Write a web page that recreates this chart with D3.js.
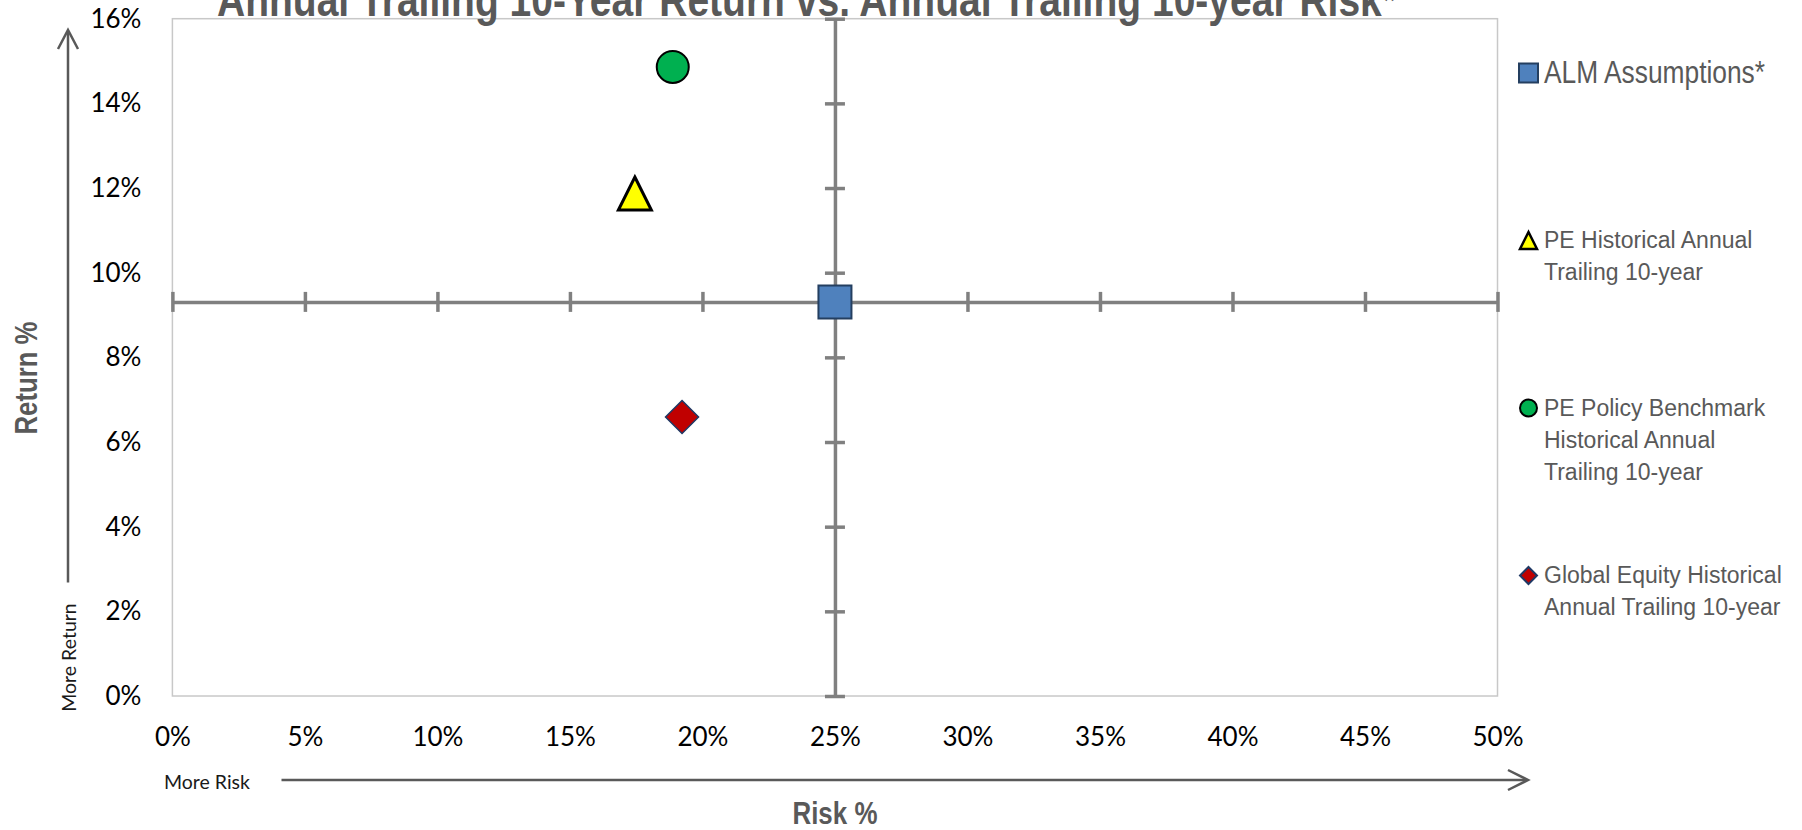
<!DOCTYPE html>
<html>
<head>
<meta charset="utf-8">
<script src="https://cdn.jsdelivr.net/npm/d3@7"></script>
<style>
  html, body { margin: 0; padding: 0; background: #ffffff; }
  svg { display: block; }
</style>
</head>
<body>
<svg id="chart" width="1802" height="830"></svg>
<script>
// Series (risk = annualised std dev %, return = annualised return %)
const seriesNames = [
  "ALM Assumptions*",
  "PE Historical Annual Trailing 10-year",
  "PE Policy Benchmark Historical Annual Trailing 10-year",
  "Global Equity Historical Annual Trailing 10-year"
];
const riskValues   = [25.0, 17.45, 18.88, 19.23];
const returnValues = [9.31, 11.87, 14.86, 6.59];
const legendLines = [
  ["ALM Assumptions*"],
  ["PE Historical Annual", "Trailing 10-year"],
  ["PE Policy Benchmark", "Historical Annual", "Trailing 10-year"],
  ["Global Equity Historical", "Annual Trailing 10-year"]
];
const xTicks = [0, 5, 10, 15, 20, 25, 30, 35, 40, 45, 50];
const yTicks = [0, 2, 4, 6, 8, 10, 12, 14, 16];
const xTickLabels = ["0%", "5%", "10%", "15%", "20%", "25%", "30%", "35%", "40%", "45%", "50%"];
const yTickLabels = ["0%", "2%", "4%", "6%", "8%", "10%", "12%", "14%", "16%"];
const titleText = "Annual Trailing 10-Year Return vs. Annual Trailing 10-year Risk*";

// Marker styling per series
const shapes  = ["square", "triangle", "circle", "diamond"];
const fills   = ["#4F81BD", "#FFFF00", "#00B050", "#C00000"];
const strokes = ["#243F60", "#000000", "#000000", "#1F3864"];
const strokeW = [2, 3, 2, 1.5];

const ARIAL = "'Liberation Sans', Arial, sans-serif";
const BODY = "Lato, 'Open Sans', sans-serif";
const AXIS_GREY = "#808080";
const TEXT_GREY = "#595959";

const svg = d3.select("#chart");

const plot = { left: 172.4, right: 1497.5, top: 18.7, bottom: 696 };
const x = d3.scaleLinear().domain([0, 50]).range([plot.left, plot.right]);
const y = d3.scaleLinear().domain([0, 16]).range([plot.bottom, plot.top]);

// The crossing axes sit on the ALM assumption point
const crossX = riskValues[0];
const crossY = returnValues[0];

// Marker outline centred on (0,0); size = full width of the marker box
function markerPath(shape, s) {
  const h = s / 2;
  const p = d3.path();
  if (shape === "square") {
    p.rect(-h, -h, s, s);
  } else if (shape === "triangle") {
    p.moveTo(0, -h); p.lineTo(h, h); p.lineTo(-h, h); p.closePath();
  } else if (shape === "diamond") {
    p.moveTo(0, -h); p.lineTo(h, 0); p.lineTo(0, h); p.lineTo(-h, 0); p.closePath();
  } else {
    p.moveTo(h, 0); p.arc(0, 0, h, 0, Math.PI * 2); p.closePath();
  }
  return p.toString();
}

// Condensed bold label: regular glyphs squeezed to a narrow set width
function narrowText(sel, len) {
  return sel.attr("font-family", ARIAL)
    .attr("textLength", len)
    .attr("lengthAdjust", "spacingAndGlyphs");
}

// Plot area frame
svg.append("rect")
  .attr("x", plot.left).attr("y", plot.top)
  .attr("width", plot.right - plot.left).attr("height", plot.bottom - plot.top)
  .attr("fill", "none").attr("stroke", "#C8C8C8").attr("stroke-width", 1.5);

// Horizontal crossing axis (risk), ticks straddle the line
const hAxis = svg.append("g")
  .attr("transform", `translate(0,${y(crossY)})`)
  .call(d3.axisBottom(x).tickValues(xTicks).tickFormat("").tickSizeOuter(0));
hAxis.select(".domain").attr("stroke", AXIS_GREY).attr("stroke-width", 3.5);
hAxis.selectAll(".tick line").attr("y1", -10).attr("y2", 10)
  .attr("stroke", AXIS_GREY).attr("stroke-width", 3.5);

// Vertical crossing axis (return)
const vAxis = svg.append("g")
  .attr("transform", `translate(${x(crossX)},0)`)
  .call(d3.axisLeft(y).tickValues(yTicks).tickFormat("").tickSizeOuter(0));
vAxis.select(".domain").attr("stroke", AXIS_GREY).attr("stroke-width", 3.5);
vAxis.selectAll(".tick line").attr("x1", -10).attr("x2", 10)
  .attr("stroke", AXIS_GREY).attr("stroke-width", 3.5);

// Tick labels along the frame edges
const xLab = svg.append("g")
  .attr("transform", `translate(0,${plot.bottom})`)
  .call(d3.axisBottom(x).tickValues(xTicks)
    .tickFormat((d, i) => xTickLabels[i]).tickSize(0).tickPadding(32));
xLab.select(".domain").remove();
xLab.selectAll("text").attr("font-family", BODY).attr("font-size", 26).attr("fill", "#000");

const yLab = svg.append("g")
  .attr("transform", `translate(${plot.left},0)`)
  .call(d3.axisLeft(y).tickValues(yTicks)
    .tickFormat((d, i) => yTickLabels[i]).tickSize(0).tickPadding(31));
yLab.select(".domain").remove();
yLab.selectAll("text").attr("font-family", BODY).attr("font-size", 26).attr("fill", "#000");

// Data markers
svg.append("g").selectAll("path")
  .data(seriesNames.map((n, i) => ({ n, i })))
  .join("path")
  .attr("transform", d => `translate(${x(riskValues[d.i])},${y(returnValues[d.i])})`)
  .attr("d", d => markerPath(shapes[d.i], shapes[d.i] === "circle" ? 32 : 33))
  .attr("fill", d => fills[d.i])
  .attr("stroke", d => strokes[d.i])
  .attr("stroke-width", d => strokeW[d.i])
  .attr("stroke-linejoin", "miter");

// Title
narrowText(svg.append("text")
  .attr("x", 217).attr("y", 16)
  .attr("font-weight", "bold").attr("font-size", 46)
  .attr("fill", TEXT_GREY)
  .text(titleText), 1180);

// Axis titles
narrowText(svg.append("text")
  .attr("x", x(25) - 42.5).attr("y", 824)
  .attr("font-weight", "bold").attr("font-size", 31)
  .attr("fill", TEXT_GREY)
  .text("Risk %"), 85);
narrowText(svg.append("text")
  .attr("transform", "translate(36.5,434.5) rotate(-90)")
  .attr("font-weight", "bold").attr("font-size", 31)
  .attr("fill", TEXT_GREY)
  .text("Return %"), 113);

// Direction arrows
const ARROW = "#595959";
svg.append("line").attr("x1", 281.5).attr("y1", 780).attr("x2", 1527).attr("y2", 780)
  .attr("stroke", ARROW).attr("stroke-width", 2.5);
svg.append("path").attr("d", "M1508,770 L1528,780 L1508,790")
  .attr("fill", "none").attr("stroke", ARROW).attr("stroke-width", 2.5);
svg.append("line").attr("x1", 68).attr("y1", 582.5).attr("x2", 68).attr("y2", 31)
  .attr("stroke", ARROW).attr("stroke-width", 2.5);
svg.append("path").attr("d", "M58,49 L68,30 L78,49")
  .attr("fill", "none").attr("stroke", ARROW).attr("stroke-width", 2.5);

svg.append("text")
  .attr("x", 164).attr("y", 789)
  .attr("font-family", BODY).attr("font-size", 19.5).attr("fill", "#1a1a1a")
  .text("More Risk");
svg.append("text")
  .attr("transform", "translate(75.5,657.5) rotate(-90)")
  .attr("text-anchor", "middle")
  .attr("font-family", BODY).attr("font-size", 19.5).attr("fill", "#1a1a1a")
  .text("More Return");

// Legend
const legend = svg.append("g");
seriesNames.forEach((name, i) => {
  const cy = 73 + 167.5 * i;
  const g = legend.append("g");
  g.append("path")
    .attr("transform", `translate(1528.5,${cy})`)
    .attr("d", markerPath(shapes[i], i === 0 ? 19 : 17))
    .attr("fill", fills[i]).attr("stroke", strokes[i])
    .attr("stroke-width", i === 0 ? 2 : (i === 1 ? 2.5 : 2));
  const big = i === 0;
  const t = g.append("text")
    .attr("font-family", ARIAL)
    .attr("font-size", big ? 31 : 23)
    .attr("fill", TEXT_GREY);
  legendLines[i].forEach((ln, k) => {
    const sp = t.append("tspan").attr("x", 1544).attr("y", cy + (big ? 10 : 7.5) + k * 32.2).text(ln);
    if (big) sp.attr("textLength", 221).attr("lengthAdjust", "spacingAndGlyphs");
  });
});
</script>
</body>
</html>
